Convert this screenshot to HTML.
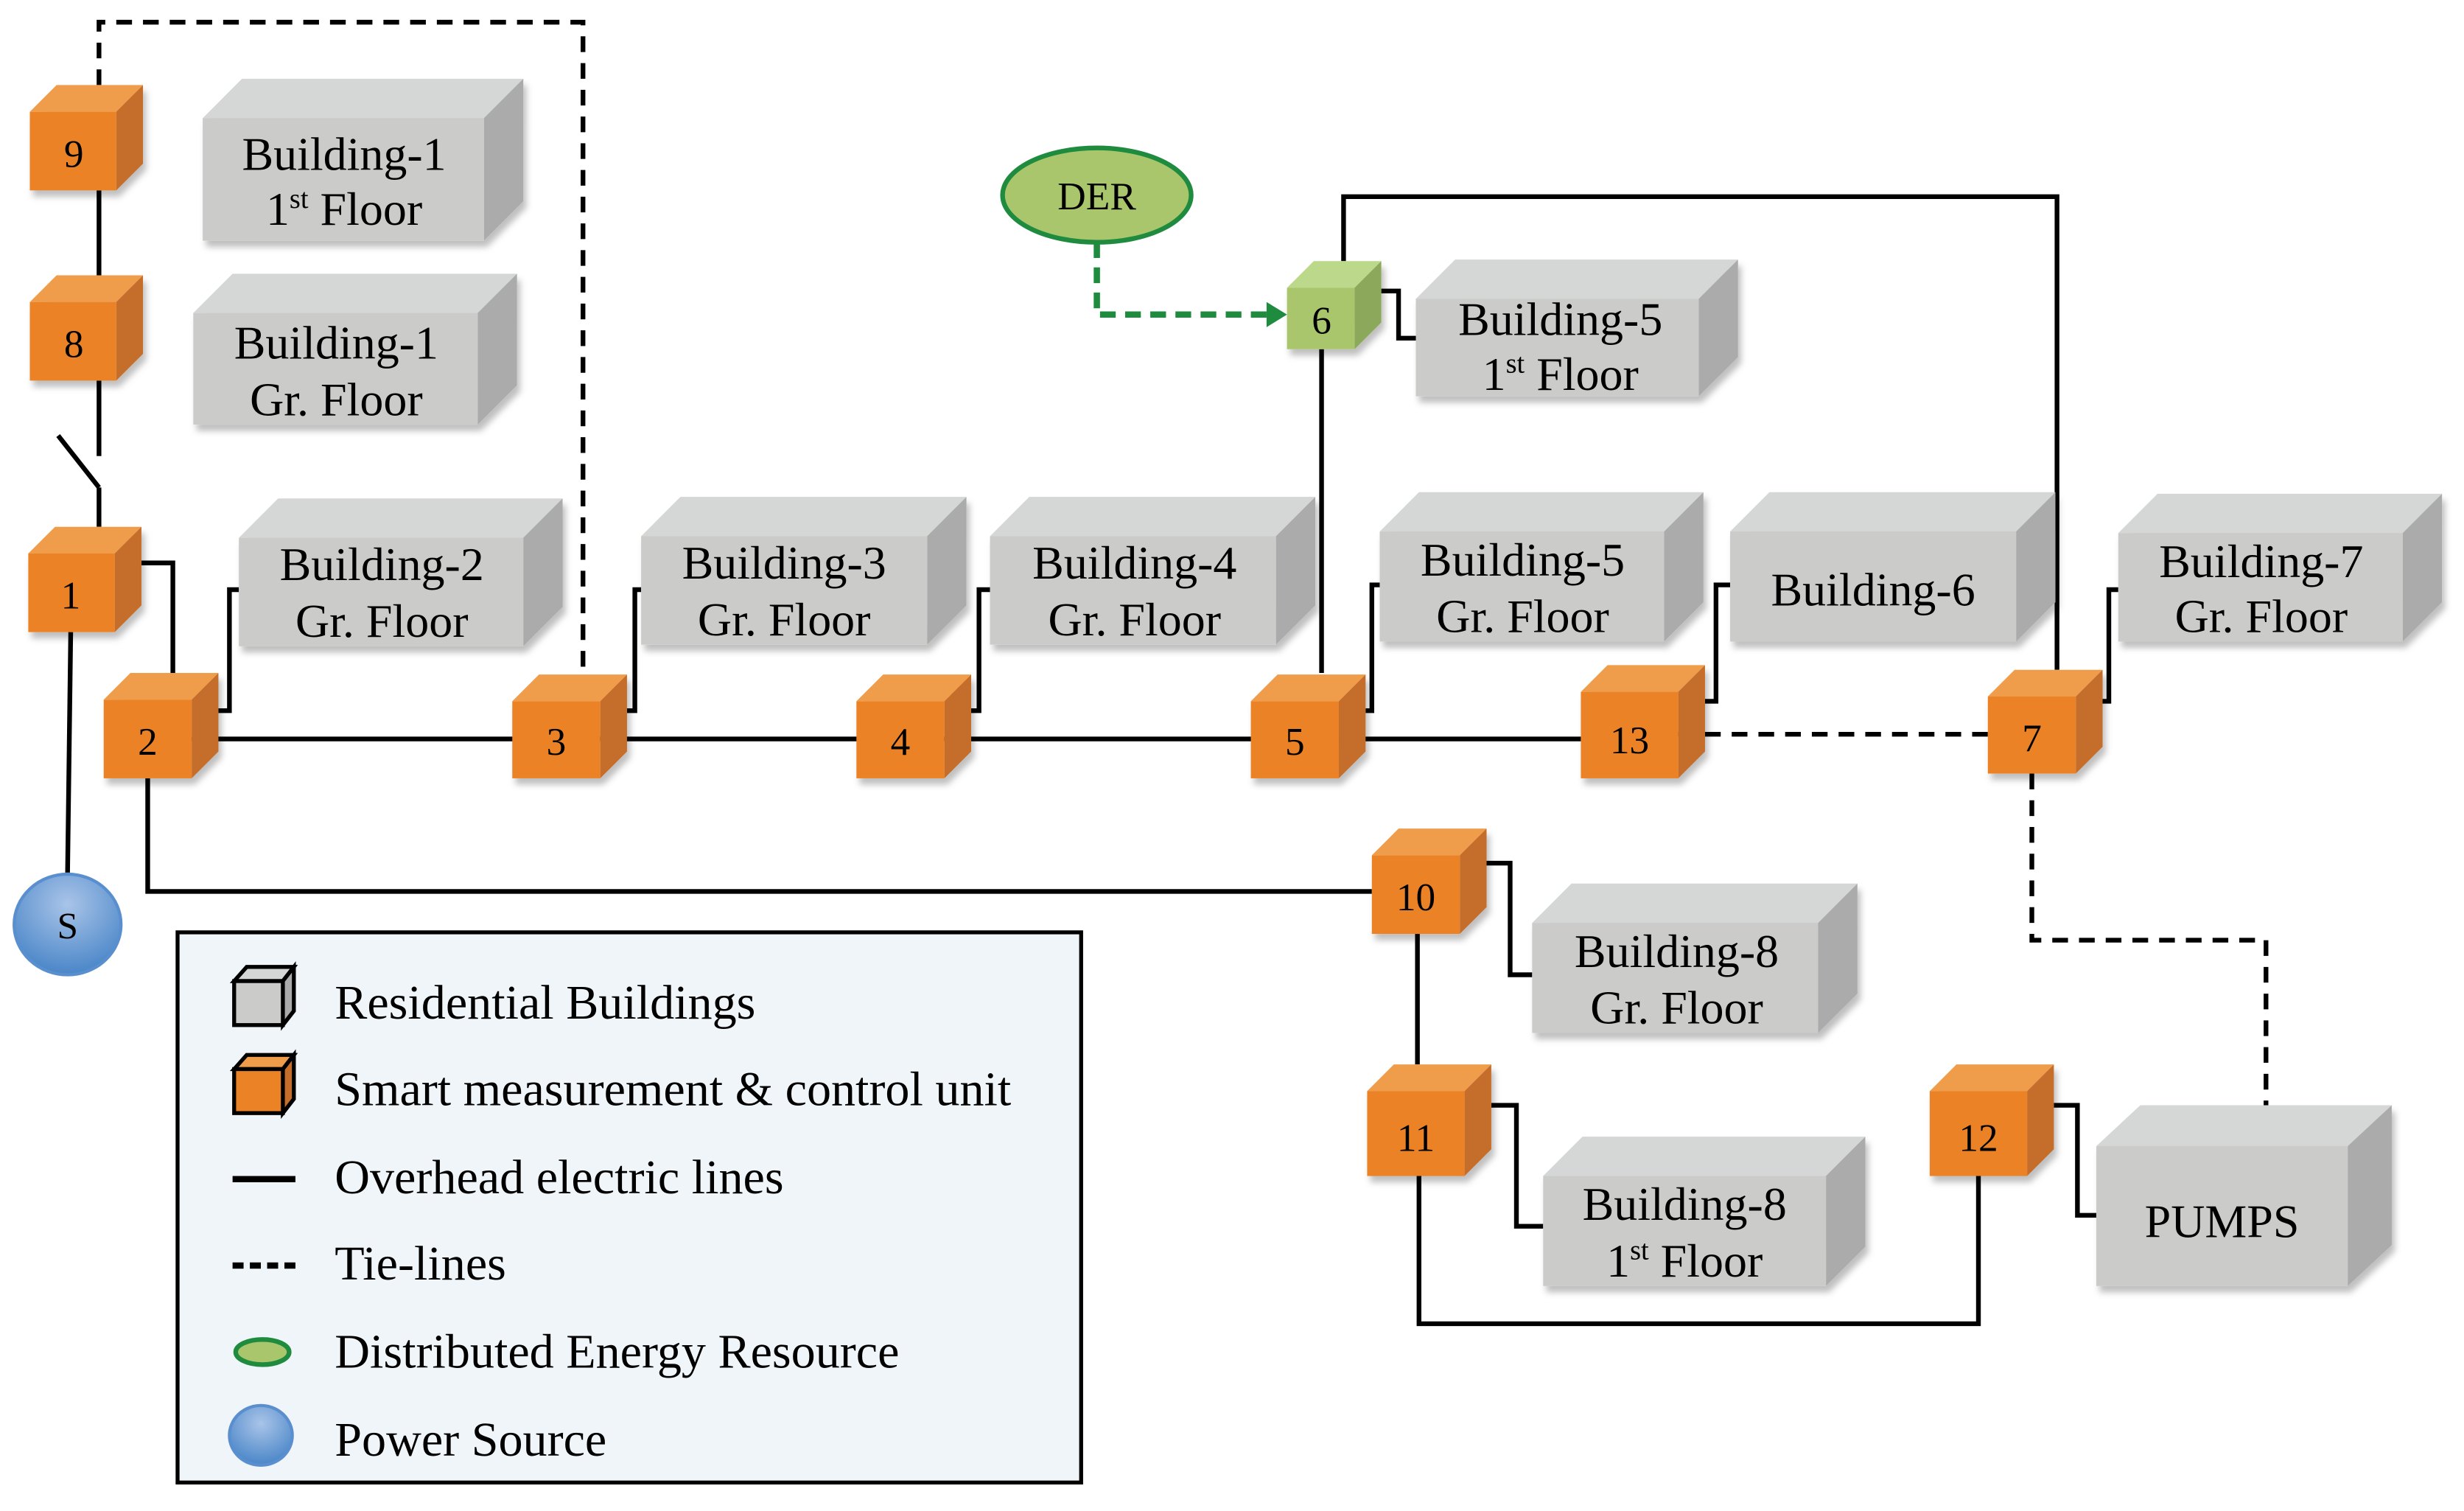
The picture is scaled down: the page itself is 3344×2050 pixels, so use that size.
<!DOCTYPE html>
<html><head><meta charset="utf-8"><style>
html,body{margin:0;padding:0;background:#fff}
svg{display:block}
text{font-family:"Liberation Serif","Times New Roman",serif;fill:#000}
</style></head><body>
<svg width="3344" height="2050" viewBox="0 0 1568 961" xmlns="http://www.w3.org/2000/svg">
<defs>
<radialGradient id="blue" cx="50%" cy="30%" r="70%"><stop offset="0" stop-color="#A9C4E8"/><stop offset="1" stop-color="#4A86C8"/></radialGradient>
<filter id="sh" x="-10%" y="-10%" width="130%" height="130%"><feDropShadow dx="2" dy="4" stdDeviation="2" flood-color="#000" flood-opacity="0.25"/></filter>
</defs>

<g fill="none" stroke="#000" stroke-width="3">
<path d="M63,121V175M63,242V290M37,277L63,310M63,310V335"/>
<path d="M45,402L43,555"/>
<path d="M90,358H110V428"/>
<path d="M122,470H1006"/>
<path d="M94,495V567H873"/>
<path d="M139,452H146V375H152"/>
<path d="M399,452H404V375H408"/>
<path d="M618,452H623V375H630"/>
<path d="M869,452H873V372H878"/>
<path d="M1085,446H1092V372H1101"/>
<path d="M1338,446H1342V375H1348"/>
<path d="M841,428L841,222"/>
<path d="M879,185H890V215H901"/>
<path d="M855,166V125H1309V426"/>
<path d="M946,549H961V620H975"/>
<path d="M902,594V677"/>
<path d="M949,703H965V780H982"/>
<path d="M903,748V842H1259V748"/>
<path d="M1307,703H1322V773H1334"/>
</g>
<g fill="none" stroke="#000" stroke-width="3" stroke-dasharray="10,7">
<path d="M63,54V14H371V429"/>
<path d="M1068,467H1265"/>
<path d="M1293,492V598H1442V703"/>
</g>
<path d="M698,154V200H808" fill="none" stroke="#1E8B3F" stroke-width="4" stroke-dasharray="10,6"/>
<polygon points="806,192 819,200 806,208" fill="#1E8B3F"/>

<g filter="url(#sh)">
<g><polygon points="129,75 154,50 333,50 308,75" fill="#D5D7D6"/><polygon points="308,75 333,50 333,128 308,153" fill="#ABABAB"/><rect x="129" y="75" width="179" height="78" fill="#CBCBC9"/></g>
<g><polygon points="123,199 148,174 329,174 304,199" fill="#D5D7D6"/><polygon points="304,199 329,174 329,245 304,270" fill="#ABABAB"/><rect x="123" y="199" width="181" height="71" fill="#CBCBC9"/></g>
<g><polygon points="152,342 177,317 358,317 333,342" fill="#D5D7D6"/><polygon points="333,342 358,317 358,386 333,411" fill="#ABABAB"/><rect x="152" y="342" width="181" height="69" fill="#CBCBC9"/></g>
<g><polygon points="408,341 433,316 615,316 590,341" fill="#D5D7D6"/><polygon points="590,341 615,316 615,385 590,410" fill="#ABABAB"/><rect x="408" y="341" width="182" height="69" fill="#CBCBC9"/></g>
<g><polygon points="630,341 655,316 837,316 812,341" fill="#D5D7D6"/><polygon points="812,341 837,316 837,385 812,410" fill="#ABABAB"/><rect x="630" y="341" width="182" height="69" fill="#CBCBC9"/></g>
<g><polygon points="878,338 903,313 1084,313 1059,338" fill="#D5D7D6"/><polygon points="1059,338 1084,313 1084,383 1059,408" fill="#ABABAB"/><rect x="878" y="338" width="181" height="70" fill="#CBCBC9"/></g>
<g><polygon points="1101,338 1126,313 1308,313 1283,338" fill="#D5D7D6"/><polygon points="1283,338 1308,313 1308,383 1283,408" fill="#ABABAB"/><rect x="1101" y="338" width="182" height="70" fill="#CBCBC9"/></g>
<g><polygon points="1348,339 1373,314 1554,314 1529,339" fill="#D5D7D6"/><polygon points="1529,339 1554,314 1554,383 1529,408" fill="#ABABAB"/><rect x="1348" y="339" width="181" height="69" fill="#CBCBC9"/></g>
<g><polygon points="901,190 926,165 1106,165 1081,190" fill="#D5D7D6"/><polygon points="1081,190 1106,165 1106,227 1081,252" fill="#ABABAB"/><rect x="901" y="190" width="180" height="62" fill="#CBCBC9"/></g>
<g><polygon points="975,587 1000,562 1182,562 1157,587" fill="#D5D7D6"/><polygon points="1157,587 1182,562 1182,632 1157,657" fill="#ABABAB"/><rect x="975" y="587" width="182" height="70" fill="#CBCBC9"/></g>
<g><polygon points="982,748 1007,723 1187,723 1162,748" fill="#D5D7D6"/><polygon points="1162,748 1187,723 1187,793 1162,818" fill="#ABABAB"/><rect x="982" y="748" width="180" height="70" fill="#CBCBC9"/></g>
<g><polygon points="1334,729 1362,703 1522,703 1494,729" fill="#D5D7D6"/><polygon points="1494,729 1522,703 1522,792 1494,818" fill="#ABABAB"/><rect x="1334" y="729" width="160" height="89" fill="#CBCBC9"/></g>
</g>

<g filter="url(#sh)">
<g><polygon points="19,71 36,54 91,54 74,71" fill="#F09D4B"/><polygon points="74,71 91,54 91,104 74,121" fill="#C56D2A"/><rect x="19" y="71" width="55" height="50" fill="#EB8225"/></g>
<g><polygon points="19,192 36,175 91,175 74,192" fill="#F09D4B"/><polygon points="74,192 91,175 91,225 74,242" fill="#C56D2A"/><rect x="19" y="192" width="55" height="50" fill="#EB8225"/></g>
<g><polygon points="18,352 35,335 90,335 73,352" fill="#F09D4B"/><polygon points="73,352 90,335 90,385 73,402" fill="#C56D2A"/><rect x="18" y="352" width="55" height="50" fill="#EB8225"/></g>
<g><polygon points="66,445 83,428 139,428 122,445" fill="#F09D4B"/><polygon points="122,445 139,428 139,478 122,495" fill="#C56D2A"/><rect x="66" y="445" width="56" height="50" fill="#EB8225"/></g>
<g><polygon points="326,446 343,429 399,429 382,446" fill="#F09D4B"/><polygon points="382,446 399,429 399,478 382,495" fill="#C56D2A"/><rect x="326" y="446" width="56" height="49" fill="#EB8225"/></g>
<g><polygon points="545,446 562,429 618,429 601,446" fill="#F09D4B"/><polygon points="601,446 618,429 618,478 601,495" fill="#C56D2A"/><rect x="545" y="446" width="56" height="49" fill="#EB8225"/></g>
<g><polygon points="796,446 813,429 869,429 852,446" fill="#F09D4B"/><polygon points="852,446 869,429 869,478 852,495" fill="#C56D2A"/><rect x="796" y="446" width="56" height="49" fill="#EB8225"/></g>
<g><polygon points="1006,440 1023,423 1085,423 1068,440" fill="#F09D4B"/><polygon points="1068,440 1085,423 1085,478 1068,495" fill="#C56D2A"/><rect x="1006" y="440" width="62" height="55" fill="#EB8225"/></g>
<g><polygon points="1265,443 1282,426 1338,426 1321,443" fill="#F09D4B"/><polygon points="1321,443 1338,426 1338,475 1321,492" fill="#C56D2A"/><rect x="1265" y="443" width="56" height="49" fill="#EB8225"/></g>
<g><polygon points="873,544 890,527 946,527 929,544" fill="#F09D4B"/><polygon points="929,544 946,527 946,577 929,594" fill="#C56D2A"/><rect x="873" y="544" width="56" height="50" fill="#EB8225"/></g>
<g><polygon points="870,694 887,677 949,677 932,694" fill="#F09D4B"/><polygon points="932,694 949,677 949,731 932,748" fill="#C56D2A"/><rect x="870" y="694" width="62" height="54" fill="#EB8225"/></g>
<g><polygon points="1228,694 1245,677 1307,677 1290,694" fill="#F09D4B"/><polygon points="1290,694 1307,677 1307,731 1290,748" fill="#C56D2A"/><rect x="1228" y="694" width="62" height="54" fill="#EB8225"/></g>
<g><polygon points="819,183 836,166 879,166 862,183" fill="#BCD98B"/><polygon points="862,183 879,166 879,205 862,222" fill="#8CA85A"/><rect x="819" y="183" width="43" height="39" fill="#A9C66C"/></g>
</g>

<ellipse cx="698" cy="124" rx="60" ry="30" fill="#A9C66C" stroke="#1E8B3F" stroke-width="3"/>
<text x="698" y="133" font-size="25" text-anchor="middle">DER</text>
<ellipse cx="43" cy="588" rx="34" ry="32" fill="url(#blue)" stroke="#5A8FCF" stroke-width="2"/>
<text x="43" y="597" font-size="24" text-anchor="middle">S</text>

<g font-size="25" text-anchor="middle">
<text x="47" y="106">9</text><text x="47" y="227">8</text><text x="45" y="387">1</text>
<text x="94" y="480">2</text><text x="354" y="480">3</text><text x="573" y="480">4</text>
<text x="824" y="480">5</text><text x="1037" y="479">13</text><text x="1293" y="478">7</text>
<text x="901" y="579">10</text><text x="901" y="732">11</text><text x="1259" y="732">12</text>
<text x="841" y="212">6</text>
</g>

<g font-size="30" text-anchor="middle">
<text x="219" y="108">Building-1</text><text x="219" y="143">1<tspan font-size="18" dy="-11">st</tspan><tspan dy="11"> Floor</tspan></text>
<text x="214" y="228">Building-1</text><text x="214" y="264">Gr. Floor</text>
<text x="243" y="369">Building-2</text><text x="243" y="405">Gr. Floor</text>
<text x="499" y="368">Building-3</text><text x="499" y="404">Gr. Floor</text>
<text x="722" y="368">Building-4</text><text x="722" y="404">Gr. Floor</text>
<text x="969" y="366">Building-5</text><text x="969" y="402">Gr. Floor</text>
<text x="1192" y="385">Building-6</text>
<text x="1439" y="367">Building-7</text><text x="1439" y="402">Gr. Floor</text>
<text x="993" y="213">Building-5</text><text x="993" y="248">1<tspan font-size="18" dy="-11">st</tspan><tspan dy="11"> Floor</tspan></text>
<text x="1067" y="615">Building-8</text><text x="1067" y="651">Gr.  Floor</text>
<text x="1072" y="776">Building-8</text><text x="1072" y="812">1<tspan font-size="18" dy="-11">st</tspan><tspan dy="11"> Floor</tspan></text>
<text x="1414" y="787">PUMPS</text>
</g>

<rect x="113" y="593" width="575" height="350" fill="#F0F5FA" stroke="#000" stroke-width="2.5"/>
<g stroke="#000" stroke-width="2.5">
<polygon points="149,624 157,615 187,615 180,624" fill="#D5D7D6"/><polygon points="180,624 187,615 187,643 180,652" fill="#ABABAB"/><rect x="149" y="624" width="31" height="28" fill="#CBCBC9"/>
<polygon points="149,680 157,671 187,671 180,680" fill="#F09D4B"/><polygon points="180,680 187,671 187,699 180,708" fill="#C56D2A"/><rect x="149" y="680" width="31" height="28" fill="#EB8225"/>
</g>
<path d="M148,750H188" stroke="#000" stroke-width="4"/>
<path d="M148,805H188" stroke="#000" stroke-width="4" stroke-dasharray="7,4"/>
<ellipse cx="167" cy="860" rx="17" ry="8" fill="#A9C66C" stroke="#1E8B3F" stroke-width="3"/>
<ellipse cx="166" cy="913" rx="20" ry="19" fill="url(#blue)" stroke="#5A8FCF" stroke-width="2"/>
<g font-size="31">
<text x="213" y="648">Residential Buildings</text>
<text x="213" y="703">Smart measurement &amp; control unit</text>
<text x="213" y="759">Overhead electric lines</text>
<text x="213" y="814">Tie-lines</text>
<text x="213" y="870">Distributed Energy Resource</text>
<text x="213" y="926">Power Source</text>
</g>
</svg>
</body></html>
